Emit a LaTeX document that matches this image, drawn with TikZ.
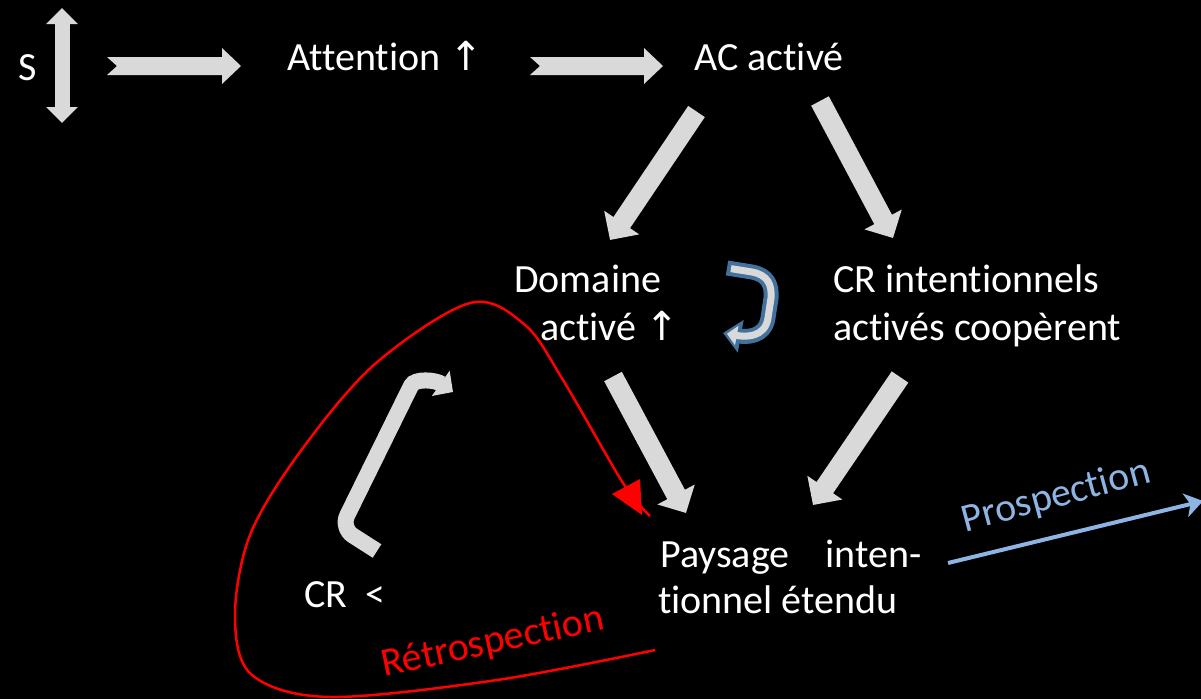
\documentclass[tikz,border=0pt]{standalone}
\usepackage{fontspec}
\setmainfont{Carlito}[Ligatures={NoCommon}]
\newfontfamily\symfont{DejaVu Sans}
\usetikzlibrary{arrows.meta,calc}
\definecolor{arrgray}{HTML}{D9D9D9}
\definecolor{ublue}{HTML}{41719C}
\definecolor{pblue}{HTML}{8EB4E3}
\definecolor{rred}{HTML}{FF0000}
\newcommand{\uparr}{{\symfont\char"2191}}
\begin{document}
\begin{tikzpicture}[x=1pt,y=-1pt,
  txt/.style={text=white, font=\fontsize{40}{48}\selectfont, inner sep=0pt, anchor=base west},
  blk/.style={arrgray, line width=20pt, -{Triangle[width=41pt,length=21pt]}},
  notch/.style={fill=arrgray}]
\fill[black] (0,0) rectangle (1201,699);
\useasboundingbox (0,0) rectangle (1201,699);

% text nodes
\node[txt] (s) at (18,80) {S};
\node[txt] (att) at (287,70) {Attention \uparr};
\node[txt] (ac) at (694,70) {AC activé};
\node[txt] (dom1) at (514,292) {Domaine};
\node[txt] (dom2) at (540,340) {activé \uparr};
\node[txt] (cr1) at (833,292) {CR intentionnels};
\node[txt] (cr2) at (833,340) {activés coopèrent};
\node[txt] (crl) at (304,607) {CR\ \ <};
\node[txt] (pay1) at (660,567) {\makebox[261pt][s]{Paysage inten-}};
\node[txt] (pay2) at (658,613) {tionnel étendu};
\node[txt, text=rred, anchor=base, rotate=12] (retro) at (495,653) {Rétrospection};
\node[txt, text=pblue, anchor=base, rotate=15] (prosp) at (1059,507) {Prospection};

% double vertical arrow beside S
\coordinate (vtop) at (62,8);
\coordinate (vbot) at (62,123);
\draw[arrgray, line width=15pt, {Triangle[width=31pt,length=16pt]}-{Triangle[width=31pt,length=16pt]}] (vtop) -- (vbot);

% notched arrows
\fill[notch] (107,57) -- (222,57) -- (222,48) -- (241,66) -- (222,84) -- (222,75) -- (107,75) -- (117,66) -- cycle;
\fill[notch] (530,57) -- (644,57) -- (644,48) -- (663,66) -- (644,84) -- (644,75) -- (530,75) -- (540,66) -- cycle;

% block arrows
\coordinate (a1s) at (696.5,111.5); \coordinate (a1e) at (610,240);
\coordinate (a2s) at (820,101);     \coordinate (a2e) at (893,238);
\coordinate (a3s) at (613,376.5);   \coordinate (a3e) at (686,513);
\coordinate (a4s) at (900,377);     \coordinate (a4e) at (813,505);
\draw[blk] (a1s) -- (a1e);
\draw[blk] (a2s) -- (a2e);
\draw[blk] (a3s) -- (a3e);
\draw[blk] (a4s) -- (a4e);

% blue U-turn arrow
\coordinate (us) at (727,268);
\coordinate (ue) at (723,333);
\draw[ublue, line width=15pt, -{Triangle[width=32pt,length=18pt]}]
  (us) -- (752,272) .. controls (768,275) and (772,285) .. (771,298) -- (768,318) .. controls (765,338) and (745,337) .. (ue);
\draw[arrgray, line width=7pt, shorten <=4pt, shorten >=4pt, -{Triangle[width=19pt,length=10pt]}]
  (us) -- (752,272) .. controls (768,275) and (772,285) .. (771,298) -- (768,318) .. controls (765,338) and (745,337) .. (ue);

% gray bent arrow
\coordinate (bs) at (377,551);
\coordinate (be) at (453,392);
\draw[arrgray, line width=16pt, rounded corners=14pt, -{Triangle[width=30pt,length=15pt]}]
  (bs) -- (341,528) -- (405,398) .. controls (415,378) and (436,380) .. (be);

% red retrospection curve
\coordinate (rs) at (655,650);
\coordinate (re) at (650,516);
\draw[rred, line width=2.5pt] plot[smooth, tension=0.55] coordinates {(655,650) (497,680) (330,697) (252,675) (235,617) (250,535) (300,452) (375,364) (470,303) (525,325) (563,380) (623,483) (650,516)};
\fill[rred] (612,494) -- (640,479) -- (642,515) -- cycle;

% prospection arrow
\coordinate (ps) at (948,563);
\coordinate (pe) at (1203,501);
\draw[pblue, line width=4pt, -{Stealth[width=24pt,length=18pt,inset=5pt]}] (ps) -- (pe);
\end{tikzpicture}
\end{document}
